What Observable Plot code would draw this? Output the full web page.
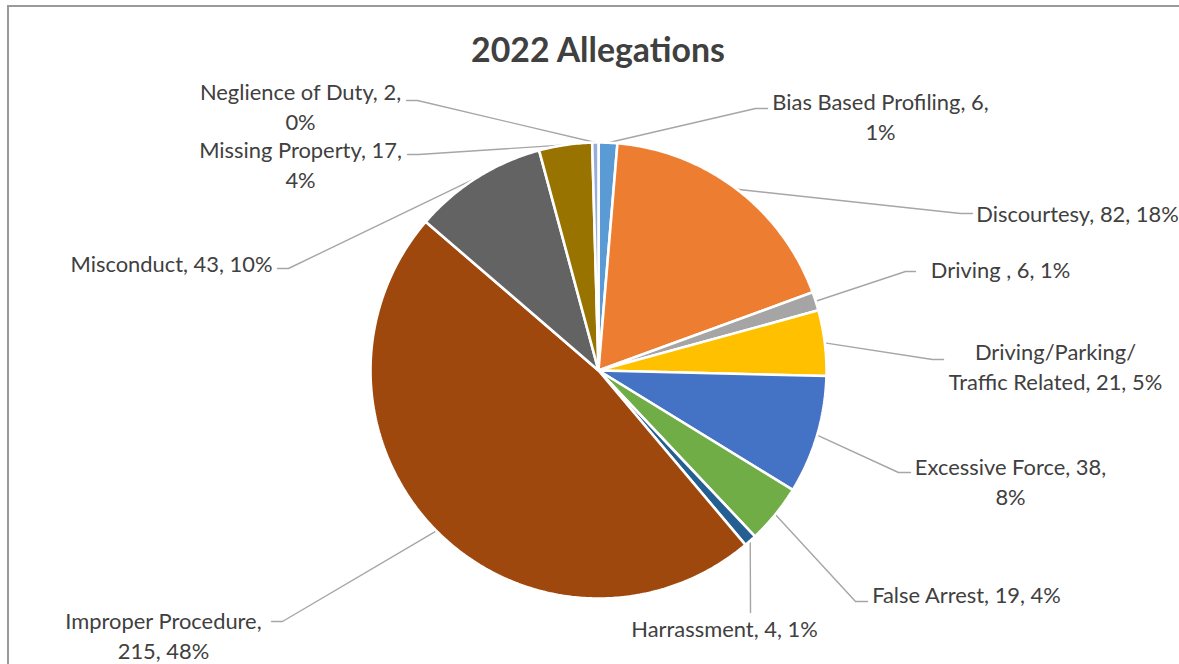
<!DOCTYPE html>
<html>
<head>
<meta charset="utf-8">
<script src="https://cdn.jsdelivr.net/npm/d3@7"></script>
<script src="https://cdn.jsdelivr.net/npm/@observablehq/plot@0.6"></script>
<style>
  html, body { margin: 0; padding: 0; background: #fff; overflow: hidden; width: 1179px; height: 664px; }
  #wrap { position: relative; width: 1179px; height: 664px; overflow: hidden; }
  #frame { position: absolute; left: 7px; top: 5px; width: 1300px; height: 900px; border: 2px solid #9a9a9a; pointer-events: none; }
  #title { position: relative; height: 80px; width: 1179px; }
  #title span { position: absolute; left: 598px; top: 49px; transform: translate(-50%, -50%); white-space: nowrap;
    font-family: Lato, "Open Sans", sans-serif; font-weight: 700; color: #404040; line-height: 1.2; }
  #chart { position: relative; height: 584px; }
  #chart svg { display: block; }
</style>
</head>
<body>
<div id="wrap">
  <div id="frame"></div>
  <div id="title"><span id="titleText">2022 Allegations</span></div>
  <div id="chart"></div>
</div>
<script>
// ---- data ----
const categories = [
  "Bias Based Profiling", "Discourtesy", "Driving ", "Driving/Parking/Traffic Related",
  "Excessive Force", "False Arrest", "Harrassment", "Improper Procedure",
  "Misconduct", "Missing Property", "Neglience of Duty"
];
const counts   = [6, 82, 6, 21, 38, 19, 4, 215, 43, 17, 2];
const percents = [1, 18, 1, 5, 8, 4, 1, 48, 10, 4, 0];
// where each data label wraps: "count" = after the count, "name" = after the name, "none", or a substring to break after
const labelBreak = ["count", "none", "none", "Parking/", "count", "none", "none", "name", "none", "count", "count"];

// ---- style ----
const sliceColors = ["#5B9BD5", "#ED7D31", "#A5A5A5", "#FFC000", "#4472C4", "#70AD47",
                     "#255E91", "#9E480E", "#636363", "#997300", "#97ACDC"];
const textColor = "#404040";
const leaderColor = "#a6a6a6";

// ---- layout (pixels relative to the pie centre, y downward) ----
const radius = 228;
const labelLayout = [
  {tx: 282,  ty: -255, kx: 157,  ky: -262, ex: 169,  ey: -262},
  {tx: 479,  ty: -158, kx: 362,  ky: -157, ex: 374,  ey: -157},
  {tx: 402,  ty: -102, kx: 307,  ky: -99,  ex: 317,  ey: -99},
  {tx: 457,  ty: -5,   kx: 334,  ky: -11,  ex: 345,  ey: -11},
  {tx: 412,  ty: 110,  kx: 300,  ky: 102,  ex: 312,  ey: 102},
  {tx: 368,  ty: 223,  kx: 257,  ky: 231,  ex: 269,  ey: 231},
  {tx: 126,  ty: 257,  kx: 152,  ky: 242,  ex: 152,  ey: 242},
  {tx: -435, ty: 264,  kx: -316, ky: 251,  ex: -327, ey: 251},
  {tx: -427, ty: -108, kx: -310, ky: -102, ex: -321, ey: -102},
  {tx: -298, ty: -207, kx: -180, ky: -216, ex: -191, ey: -216},
  {tx: -298, ty: -265, kx: -181, ky: -270, ex: -192, ey: -270}
];

// ---- font fitting (match reference text widths) ----
const ctx = document.createElement("canvas").getContext("2d");
function fit(str, target, weight) {
  ctx.font = `${weight} 100px Lato`;
  return 100 * target / ctx.measureText(str).width;
}
const labelSize = (fit("Bias Based Profiling, 6,", 216, 400) + fit("False Arrest, 19, 4%", 190, 400) + fit("Misconduct, 43, 10%", 202, 400)) / 3;
const titleSize = fit("2022 Allegations", 255, 700);
document.getElementById("titleText").style.fontSize = titleSize + "px";

// ---- geometry from the data ----
const arcs = d3.pie().sort(null).value(d => d.value).startAngle(0).endAngle(2 * Math.PI)(
  categories.map((name, i) => ({name, value: counts[i], i}))
);
const pt = (a, r) => ({x: r * Math.sin(a), y: -r * Math.cos(a)});

const slicePoints = [];
for (const a of arcs) {
  slicePoints.push({name: a.data.name, x: 0, y: 0});
  const steps = Math.max(2, Math.ceil((a.endAngle - a.startAngle) / 0.01));
  for (let k = 0; k <= steps; k++) {
    const ang = a.startAngle + (a.endAngle - a.startAngle) * k / steps;
    slicePoints.push({name: a.data.name, ...pt(ang, radius)});
  }
}

const leaderPoints = [];
const labels = [];
arcs.forEach((a, i) => {
  const mid = (a.startAngle + a.endAngle) / 2;
  const L = labelLayout[i];
  const s = pt(mid, radius);
  leaderPoints.push({name: a.data.name, x: s.x, y: s.y});
  leaderPoints.push({name: a.data.name, x: L.kx, y: L.ky});
  leaderPoints.push({name: a.data.name, x: L.ex, y: L.ey});
  const name = categories[i], v = counts[i], p = percents[i] + "%";
  let text;
  const br = labelBreak[i];
  if (br === "count") text = `${name}, ${v},\n${p}`;
  else if (br === "name") text = `${name},\n${v}, ${p}`;
  else if (br === "none") text = `${name}, ${v}, ${p}`;
  else text = `${name}, ${v}, ${p}`.replace(br, br + "\n");
  labels.push({x: L.tx, y: L.ty, text});
});

const chart = Plot.plot({
  width: 1179,
  height: 584,
  margin: 0,
  x: {domain: [-598, 581], range: [0, 1179], axis: null},
  y: {domain: [-290, 294], range: [0, 584], axis: null},
  color: {domain: categories, range: sliceColors},
  style: {background: "transparent", overflow: "visible"},
  marks: [
    Plot.line(leaderPoints, {x: "x", y: "y", z: "name", stroke: leaderColor, strokeWidth: 1.4, curve: "linear"}),
    Plot.line(slicePoints, {x: "x", y: "y", z: "name", fill: "name", stroke: "white", strokeWidth: 2.6,
      strokeLinejoin: "miter", curve: "linear-closed"}),
    Plot.text(labels, {x: "x", y: "y", text: "text", fill: textColor, fontSize: labelSize,
      fontFamily: "Lato, 'Open Sans', sans-serif", lineHeight: 1.36, textAnchor: "middle", lineAnchor: "middle"})
  ]
});
document.getElementById("chart").appendChild(chart);
</script>
</body>
</html>
